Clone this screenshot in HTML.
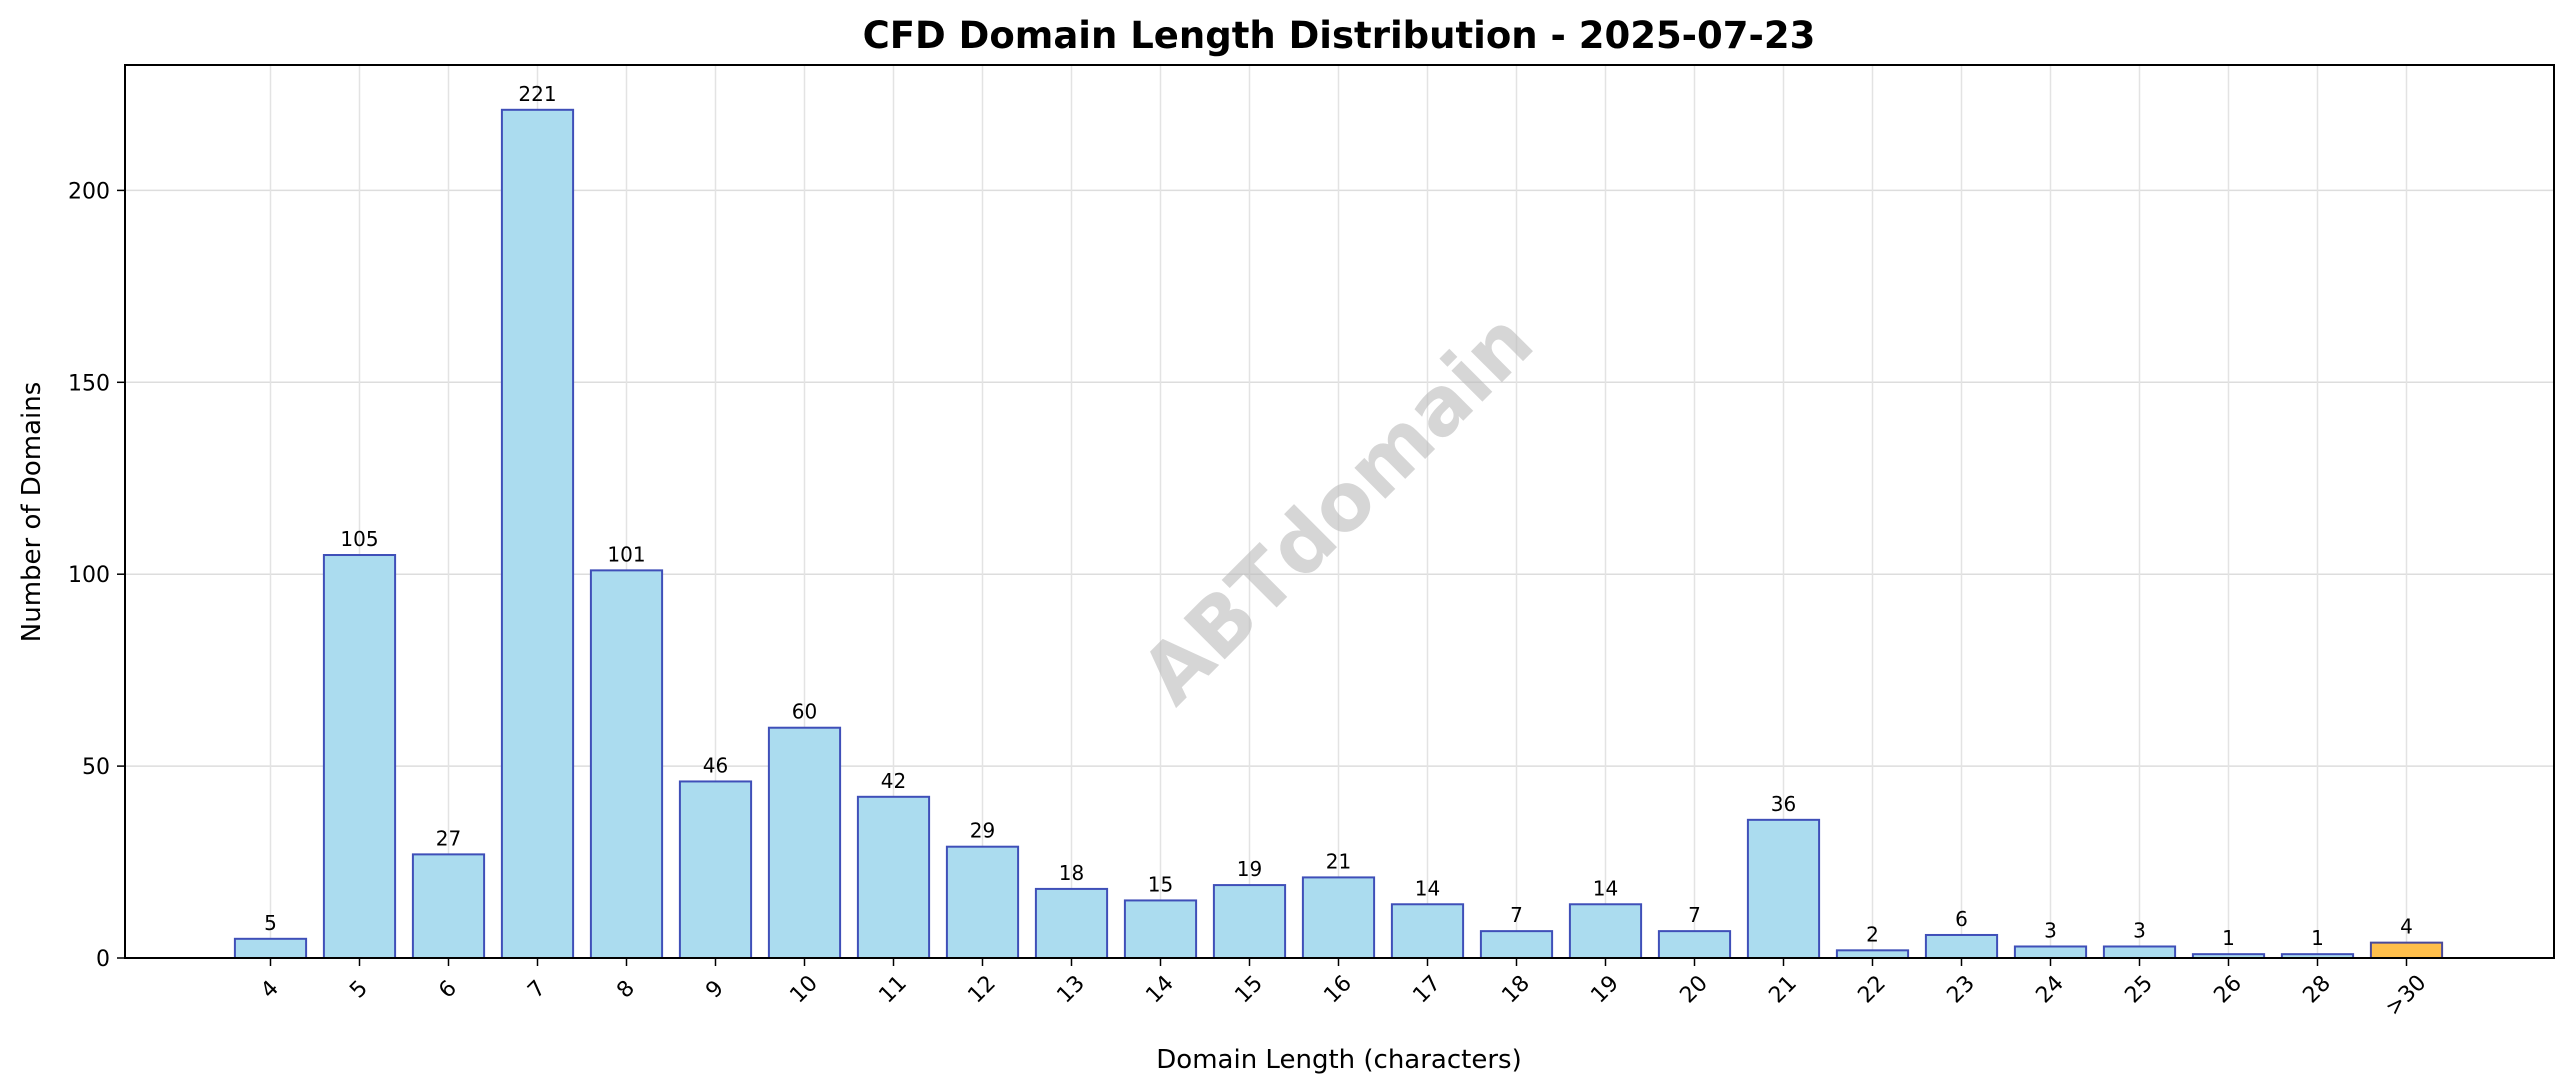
<!DOCTYPE html>
<html><head><meta charset="utf-8"><style>
html,body{margin:0;padding:0;background:#fff;}
svg{display:block;font-family:"DejaVu Sans","Liberation Sans",sans-serif;}
</style></head><body>
<svg id="chart" width="2560" height="1087" viewBox="0 0 2560 1087">
<text x="1339" y="48" text-anchor="middle" font-size="37" font-weight="bold">CFD Domain Length Distribution - 2025-07-23</text>
<g id="grid"></g>
<text x="1341" y="512" text-anchor="middle" dominant-baseline="middle" font-size="80" font-weight="bold" fill="#bbbbbb" fill-opacity="0.6" transform="rotate(-45 1341 512)">ABTdomain</text>
<g id="bars"></g>
<g id="labels"></g>
<rect x="125" y="65" width="2429" height="893" fill="none" stroke="#000" stroke-width="2"/>
<g id="xticks"></g>
<g id="yticks"></g>
<text x="1339" y="1068" text-anchor="middle" font-size="26">Domain Length (characters)</text>
<text x="0" y="0" text-anchor="middle" font-size="26" transform="translate(40 512) rotate(-90)">Number of Domains</text>
</svg>
<script>
const categories = ["4","5","6","7","8","9","10","11","12","13","14","15","16","17","18","19","20","21","22","23","24","25","26","28",">30"];
const counts = [5,105,27,221,101,46,60,42,29,18,15,19,21,14,7,14,7,36,2,6,3,3,1,1,4];
const yTicks = [0,50,100,150,200];

const NS = "http://www.w3.org/2000/svg";
const x0 = 270.5, step = 89.0, barW = 71.2;
const yZero = 958, pxPerUnit = 3.838;
function xPos(i){ return x0 + i*step; }
function yPos(v){ return yZero - v*pxPerUnit; }
function mk(tag, attrs, parent){
  const e = document.createElementNS(NS, tag);
  for (const k in attrs) e.setAttribute(k, attrs[k]);
  parent.appendChild(e);
  return e;
}
const grid = document.getElementById('grid');
const bars = document.getElementById('bars');
const labels = document.getElementById('labels');
const xt = document.getElementById('xticks');
const yt = document.getElementById('yticks');

yTicks.forEach(v => {
  const y = yPos(v);
  const g = mk('line', {x1:125, x2:2554, y1:y, y2:y, stroke:'#dddddd', 'stroke-width':1.5}, grid);
  
  
  const t = mk('line', {x1:117, x2:125, y1:y, y2:y, stroke:'#000', 'stroke-width':1.5}, yt);
  
  
  const l = mk('text', {x:110, y:y+8, 'text-anchor':'end', 'font-size':22}, yt);
  l.textContent = v;
  
  
});

categories.forEach((c, i) => {
  const x = xPos(i);
  const g = mk('line', {x1:x, x2:x, y1:65, y2:958, stroke:'#e3e3e3', 'stroke-width':1.5}, grid);
  
  
  const v = counts[i];
  const isLast = c === '>30';
  const r = mk('rect', {x:x-barW/2, y:yPos(v), width:barW, height:v*pxPerUnit,
    fill: isLast ? '#ffbf4c' : '#abdcef', stroke: isLast ? '#4a4a9a' : '#3f4fb8', 'stroke-width':2}, bars);
  
  
  const vl = mk('text', {x:x, y:yPos(v)-9, 'text-anchor':'middle', 'font-size':20}, labels);
  vl.textContent = v;
  
  
  const t = mk('line', {x1:x, x2:x, y1:958, y2:966, stroke:'#000', 'stroke-width':1.5}, xt);
  
  
  const tl = mk('text', {x:0, y:0, 'text-anchor':'middle', 'dominant-baseline':'middle', 'font-size':22,
    transform:'translate(' + x + ' ' + (c.length > 2 ? 996 : 990) + ') rotate(-45)'}, xt);
  tl.textContent = c;
  
  
});
</script>
</body></html>
